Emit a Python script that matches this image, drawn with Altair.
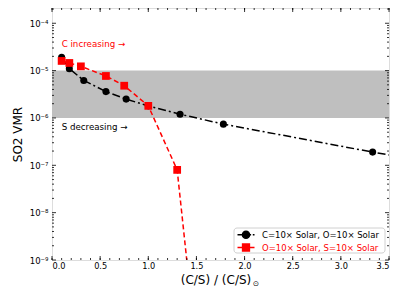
import altair as alt
import pandas as pd

# ---- data ----
black_x = [0.1, 0.18, 0.33, 0.56, 0.77, 1.0, 1.33, 1.78, 3.33, 4.0]
black_y = [1.9e-5, 1.1e-5, 6.2e-6, 3.6e-6, 2.5e-6, 1.8e-6, 1.2e-6, 7.4e-7, 1.9e-7, 1.1e-7]
red_x = [0.1, 0.18, 0.3, 0.56, 0.75, 1.0, 1.3, 1.5]
red_y = [1.6e-5, 1.45e-5, 1.23e-5, 7.7e-6, 4.8e-6, 1.8e-6, 8.0e-8, 1.2e-11]
series_names = ["C=10× Solar, O=10× Solar", "O=10× Solar, S=10× Solar"]
band_low, band_high = [1e-6], [1e-5]
notes = ["C increasing →", "S decreasing →"]
note_x = [0.1, 0.1]
note_y = [3.7e-5, 6.5e-7]
note_colors = ["red", "black"]
x_major = [0.0, 0.5, 1.0, 1.5, 2.0, 2.5, 3.0, 3.5]
x_minor = [round(i * 0.1, 1) for i in range(36)]
y_major = [1e-9, 1e-8, 1e-7, 1e-6, 1e-5, 1e-4]
y_minor = [m * 10.0 ** e for e in range(-9, -3) for m in range(2, 10)]

W, H = 337, 252
FONT = "DejaVu Sans"
xs = alt.Scale(domain=[0, 3.5], nice=False)
ys = alt.Scale(type="log", domain=[1e-9, 2.1e-4], nice=False)

black = pd.DataFrame({"x": black_x, "y": black_y})
red = pd.DataFrame({"x": red_x, "y": red_y})

xax = alt.Axis(values=x_major, format=".1f", ticks=False, domain=False, grid=False,
               labelFont=FONT, labelFontSize=8.2, labelColor="black", labelPadding=2.5,
               title="(C/S) / (C/S)", titleFont=FONT, titleFontSize=12,
               titleFontWeight="normal", titleColor="black", titlePadding=4.5, titleX=163.5)
yax = alt.Axis(values=y_major, ticks=False, domain=False, grid=False,
               labelFont=FONT, labelFontSize=8.5, labelColor="black", labelPadding=4,
               labelExpr="'10⁻' + ['⁰','¹','²','³','⁴','⁵','⁶','⁷','⁸','⁹'][-round(log(datum.value)/LN10)]",
               title="SO2 VMR", titleFont=FONT, titleFontSize=12, titleFontWeight="normal",
               titleColor="black", titlePadding=5)

band = alt.Chart(pd.DataFrame({"lo": band_low, "hi": band_high})).mark_rect(
    color="#bfbfbf").encode(
    y=alt.Y("lo:Q", scale=ys, axis=yax), y2="hi:Q",
    x=alt.value(0), x2=alt.value(W))

bline = alt.Chart(black).mark_line(color="black", strokeWidth=1.5, strokeDash=[8, 3, 2, 3],
                                   clip=True).encode(
    x=alt.X("x:Q", scale=xs, axis=xax), y=alt.Y("y:Q", scale=ys))
bpts = alt.Chart(black).mark_circle(color="black", size=50, opacity=1, clip=True).encode(
    x="x:Q", y="y:Q")
rline = alt.Chart(red).mark_line(color="red", strokeWidth=1.5, strokeDash=[5, 3],
                                 clip=True).encode(x="x:Q", y="y:Q")
rpts = alt.Chart(red).mark_square(color="red", size=60, opacity=1, clip=True).encode(
    x="x:Q", y="y:Q")

notes_df = pd.DataFrame({"t": notes, "x": note_x, "y": note_y, "c": note_colors})
txt = alt.Chart(notes_df).mark_text(align="left", baseline="middle", font=FONT,
                                    fontSize=8.7).encode(
    x="x:Q", y="y:Q", text="t:N", color=alt.Color("c:N", scale=None))

# subscript solar symbol of the x title
sun = alt.Chart(pd.DataFrame({"t": ["⊙"]})).mark_text(
    align="center", baseline="middle", font=FONT, fontSize=7.5, color="black").encode(
    x=alt.value(204), y=alt.value(275.5), text="t:N")

# inward ticks on all four sides
def xticks(vals, ln):
    d = pd.DataFrame({"x": vals})
    b = alt.Chart(d).mark_rule(color="black", strokeWidth=0.8).encode(
        x="x:Q", y=alt.value(H), y2=alt.value(H - ln))
    t = alt.Chart(d).mark_rule(color="black", strokeWidth=0.8).encode(
        x="x:Q", y=alt.value(0), y2=alt.value(ln))
    return b + t

def yticks(vals, ln):
    d = pd.DataFrame({"y": vals})
    l = alt.Chart(d).mark_rule(color="black", strokeWidth=0.8).encode(
        y="y:Q", x=alt.value(0), x2=alt.value(ln))
    r = alt.Chart(d).mark_rule(color="black", strokeWidth=0.8).encode(
        y="y:Q", x=alt.value(W), x2=alt.value(W - ln))
    return l + r

ticks = xticks(x_major, 4) + xticks(x_minor, 2) + yticks(y_major, 4) + yticks(y_minor, 2)

# legend (drawn as a guide box in the lower right)
circ = "M0.42,0A0.42,0.42 0 1,1 -0.42,0A0.42,0.42 0 1,1 0.42,0Z"
sq = "M-0.4,-0.4H0.4V0.4H-0.4Z"
shape_black = "M-1,0H-0.3M0.45,0H0.6M0.8,0H1" + circ
shape_red = "M-1,0H-0.4M0.4,0H1" + sq
one = pd.DataFrame({"k": [0]})
LX0, LX1, LY0, LY1 = 182, 333, 220, 245
box = alt.Chart(one).mark_rect(fill="white", stroke="#cccccc", strokeWidth=1,
                               cornerRadius=3, opacity=0.9).encode(
    x=alt.value(LX0), x2=alt.value(LX1), y=alt.value(LY0), y2=alt.value(LY1))
leg_layers = [box]
for name, shp, col, ry in [(series_names[0], shape_black, "black", 226.7),
                           (series_names[1], shape_red, "red", 239.5)]:
    leg_layers.append(alt.Chart(one).mark_point(shape=shp, filled=True, fill=col, stroke=col,
                                                strokeWidth=1.5, size=289, opacity=1).encode(
        x=alt.value(194), y=alt.value(ry)))
    leg_layers.append(alt.Chart(pd.DataFrame({"t": [name]})).mark_text(
        align="left", baseline="middle", font=FONT, fontSize=8.5, color=col).encode(
        x=alt.value(210), y=alt.value(ry), text="t:N"))

chart = alt.layer(band, bline, bpts, rline, rpts, txt, ticks, *leg_layers, sun).properties(
    width=W, height=H,
    autosize=alt.AutoSizeParams(type="none"),
    padding={"left": 44, "top": 0, "right": 2, "bottom": 31},
).configure_view(stroke="black", strokeWidth=1).configure(background="white")

chart.save("out.html", embed_options={"renderer": "svg", "actions": False})
